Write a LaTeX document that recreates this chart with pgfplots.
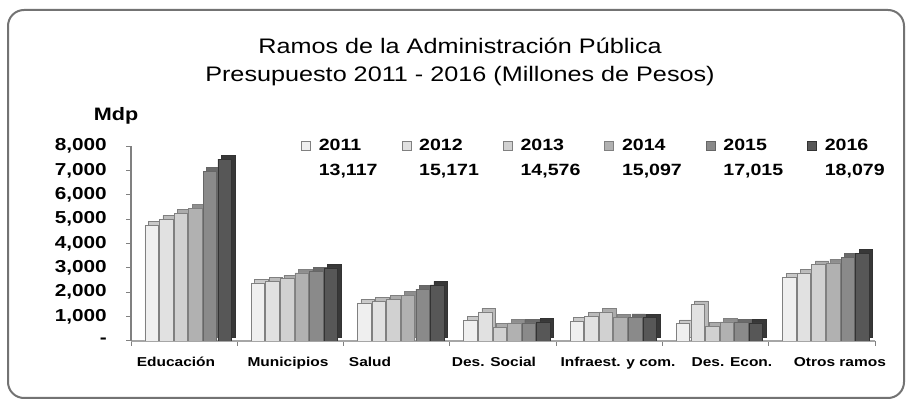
\documentclass[border=0pt]{standalone}
\usepackage{fontspec}
\setmainfont{Liberation Sans}[FakeStretch=1.2]
\usepackage{pgfplots}
\usepackage{pgfplotstable}
\pgfplotsset{compat=1.18}

\definecolor{cA}{HTML}{EFEFEF}
\definecolor{cB}{HTML}{E1E1E1}
\definecolor{cC}{HTML}{D1D1D1}
\definecolor{cD}{HTML}{B1B1B1}
\definecolor{cE}{HTML}{8A8A8A}
\definecolor{cF}{HTML}{575757}
\definecolor{dA}{HTML}{C9C9C9}
\definecolor{dB}{HTML}{BBBBBB}
\definecolor{dC}{HTML}{ABABAB}
\definecolor{dD}{HTML}{8E8E8E}
\definecolor{dE}{HTML}{6A6A6A}
\definecolor{dF}{HTML}{383838}
\definecolor{edge}{HTML}{808080}

\pgfplotstableread{
cat y11 y12 y13 y14 y15 y16
0 4750 5000 5250 5450 6970 7460
1 2380 2460 2550 2790 2870 3000
2 1560 1640 1720 1880 2130 2300
3 860 1190 570 740 740 780
4 820 1020 1190 960 970 960
5 720 1500 610 780 750 740
6 2620 2790 3140 3200 3440 3610
}\data

\begin{document}
\begin{tikzpicture}
\useasboundingbox (0,0) rectangle (907bp,406bp);
\draw[black!55, line width=2bp, rounded corners=16bp] (8bp,8bp) rectangle (904bp,396bp);
\node[align=center, font=\fontsize{21bp}{28bp}\selectfont] at (460bp,344bp)
  {Ramos de la Administración Pública\\Presupuesto 2011 - 2016 (Millones de Pesos)};
\node[font=\fontsize{18bp}{20bp}\selectfont\bfseries] at (116bp,290bp) {Mdp};
\begin{axis}[
  at={(131bp,65bp)}, anchor=south west,
  scale only axis, width=744bp, height=195bp,
  xmin=-0.5, xmax=6.5, ymin=0, ymax=8000,
  ybar, bar width=13.5bp,
  axis lines*=left,
  x axis line style={draw=black!35, line width=2.5bp},
  y axis line style={draw=black!50, line width=1.2bp},
  tick align=outside, major tick length=5bp,
  tick style={draw=black!50, line width=1bp},
  ytick={0,1000,...,8000},
  yticklabels={{-},{1,000},{2,000},{3,000},{4,000},{5,000},{6,000},{7,000},{8,000}},
  yticklabel style={font=\fontsize{17.3bp}{20bp}\selectfont\bfseries, inner sep=0bp, anchor=east, xshift=-19bp},
  xtick={-0.5,0.5,...,6.5}, xticklabels={},
  extra x ticks={-0.077,0.977,1.749,2.915,4.082,5.154,6.170},
  extra x tick labels={Educación,Municipios,Salud,Des. Social,Infraest. y com.,Des. Econ.,Otros ramos},
  extra x tick style={major tick length=0bp, xticklabel style={font=\fontsize{12.9bp}{15bp}\selectfont\bfseries, inner sep=0bp, anchor=north, yshift=-16bp}},
  legend columns=6,
  legend cell align=left,
  legend style={draw=none, fill=none, at={(axis description cs:0.2285,1.041)}, anchor=north west,
    font=\fontsize{16.3bp}{19bp}\selectfont\bfseries, inner sep=0bp,
    nodes={inner sep=0bp, text height=12bp, text depth=3bp},
    row sep=10bp,
    /tikz/every odd column/.append style={column sep=8bp},
    /tikz/every even column/.append style={column sep=24bp}},
]
\addplot[bar shift=-29bp, yshift=3.5bp, fill=dA, draw=edge, line width=0.7bp, forget plot] table[x=cat,y=y11]{\data};
\addplot[bar shift=-32.5bp, fill=cA, draw=edge, line width=0.7bp,
  legend image code/.code={\draw[draw=edge, fill=cA, line width=0.6bp] (0bp,-4.5bp) rectangle (9bp,4.5bp);}] table[x=cat,y=y11]{\data};
\addlegendentry{2011}
\addplot[bar shift=-14.4bp, yshift=3.5bp, fill=dB, draw=edge, line width=0.7bp, forget plot] table[x=cat,y=y12]{\data};
\addplot[bar shift=-17.9bp, fill=cB, draw=edge, line width=0.7bp,
  legend image code/.code={\draw[draw=edge, fill=cB, line width=0.6bp] (0bp,-4.5bp) rectangle (9bp,4.5bp);}] table[x=cat,y=y12]{\data};
\addlegendentry{2012}
\addplot[bar shift=0.2bp, yshift=3.5bp, fill=dC, draw=edge, line width=0.7bp, forget plot] table[x=cat,y=y13]{\data};
\addplot[bar shift=-3.3bp, fill=cC, draw=edge, line width=0.7bp,
  legend image code/.code={\draw[draw=edge, fill=cC, line width=0.6bp] (0bp,-4.5bp) rectangle (9bp,4.5bp);}] table[x=cat,y=y13]{\data};
\addlegendentry{2013}
\addplot[bar shift=14.8bp, yshift=3.5bp, fill=dD, draw=edge, line width=0.7bp, forget plot] table[x=cat,y=y14]{\data};
\addplot[bar shift=11.3bp, fill=cD, draw=edge, line width=0.7bp,
  legend image code/.code={\draw[draw=edge, fill=cD, line width=0.6bp] (0bp,-4.5bp) rectangle (9bp,4.5bp);}] table[x=cat,y=y14]{\data};
\addlegendentry{2014}
\addplot[bar shift=29.4bp, yshift=3.5bp, fill=dE, draw=black!60, line width=0.7bp, forget plot] table[x=cat,y=y15]{\data};
\addplot[bar shift=25.9bp, fill=cE, draw=black!60, line width=0.7bp,
  legend image code/.code={\draw[draw=black!60, fill=cE, line width=0.6bp] (0bp,-4.5bp) rectangle (9bp,4.5bp);}] table[x=cat,y=y15]{\data};
\addlegendentry{2015}
\addplot[bar shift=44bp, yshift=3.5bp, fill=dF, draw=black!80, line width=0.7bp, forget plot] table[x=cat,y=y16]{\data};
\addplot[bar shift=40.5bp, fill=cF, draw=black!80, line width=0.7bp,
  legend image code/.code={\draw[draw=black!80, fill=cF, line width=0.6bp] (0bp,-4.5bp) rectangle (9bp,4.5bp);}] table[x=cat,y=y16]{\data};
\addlegendentry{2016}
\addlegendimage{empty legend}\addlegendentry{13,117}
\addlegendimage{empty legend}\addlegendentry{15,171}
\addlegendimage{empty legend}\addlegendentry{14,576}
\addlegendimage{empty legend}\addlegendentry{15,097}
\addlegendimage{empty legend}\addlegendentry{17,015}
\addlegendimage{empty legend}\addlegendentry{18,079}
\end{axis}
\end{tikzpicture}
\end{document}
